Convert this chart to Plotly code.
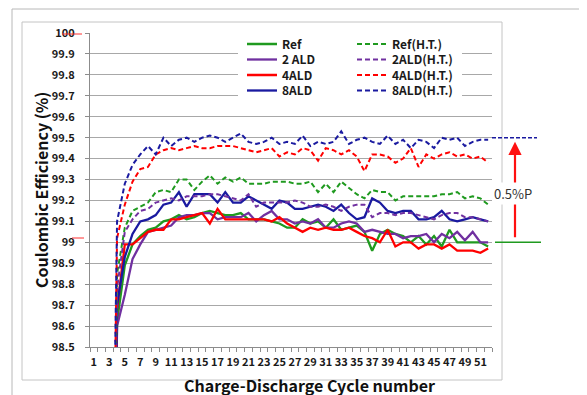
import plotly.graph_objects as go

# ---------------- data ----------------
cycles = list(range(1, 53))
x_tick_vals = list(range(1, 53, 2))
x_tick_text = [str(v) for v in x_tick_vals]
y_tick_vals = [98.5, 98.6, 98.7, 98.8, 98.9, 99.0, 99.1, 99.2, 99.3, 99.4, 99.5,
               99.6, 99.7, 99.8, 99.9, 100.0]
y_tick_text = ["98.5", "98.6", "98.7", "98.8", "98.9", "99", "99.1", "99.2", "99.3",
               "99.4", "99.5", "99.6", "99.7", "99.8", "99.9", "100"]

ref = [None, None, 96.0, 98.62, 98.89, 98.99, 99.03, 99.06, 99.07, 99.10, 99.11, 99.13,
       99.11, 99.12, 99.14, 99.15, 99.14, 99.13, 99.13, 99.14, 99.11, 99.11, 99.11, 99.10,
       99.09, 99.07, 99.07, 99.11, 99.09, 99.10, 99.07, 99.11, 99.06, 99.07, 99.08, 99.05,
       98.96, 99.04, 99.06, 99.04, 99.03, 99.00, 99.03, 98.99, 99.03, 98.98, 99.06, 99.00,
       99.00, 99.00, 99.00, 98.98]
ald2 = [None, None, 95.8, 98.60, 98.75, 98.92, 98.99, 99.05, 99.06, 99.07, 99.08, 99.12,
        99.13, 99.13, 99.14, 99.14, 99.11, 99.12, 99.12, 99.12, 99.14, 99.10, 99.13, 99.15,
        99.11, 99.11, 99.09, 99.10, 99.09, 99.11, 99.07, 99.07, 99.09, 99.10, 99.09, 99.05,
        99.06, 99.05, 99.04, 99.04, 99.02, 99.03, 99.03, 99.04, 99.00, 99.04, 99.02, 99.05,
        99.01, 99.05, 99.00, 99.00]
ald4 = [None, None, 96.0, 98.68, 98.99, 98.99, 99.02, 99.05, 99.06, 99.06, 99.11, 99.11,
        99.12, 99.13, 99.14, 99.09, 99.16, 99.11, 99.11, 99.11, 99.11, 99.11, 99.11, 99.10,
        99.12, 99.09, 99.07, 99.05, 99.07, 99.06, 99.07, 99.06, 99.06, 99.07, 99.05, 99.03,
        99.02, 99.00, 99.06, 98.98, 99.00, 99.00, 98.97, 98.99, 98.99, 98.97, 98.99, 98.96,
        98.96, 98.96, 98.95, 98.97]
ald8 = [None, None, 96.0, 98.70, 98.93, 99.04, 99.10, 99.11, 99.13, 99.18, 99.19, 99.24,
        99.17, 99.23, 99.23, 99.23, 99.19, 99.24, 99.19, 99.19, 99.22, 99.20, 99.18, 99.16,
        99.20, 99.19, 99.16, 99.16, 99.17, 99.18, 99.17, 99.15, 99.18, 99.14, 99.11, 99.12,
        99.21, 99.19, 99.15, 99.14, 99.15, 99.15, 99.11, 99.11, 99.12, 99.15, 99.11, 99.10,
        99.11, 99.12, 99.11, 99.10]
ref_ht = [None, None, 96.3, 98.85, 99.07, 99.15, 99.17, 99.19, 99.24, 99.25, 99.24, 99.30,
          99.30, 99.25, 99.29, 99.32, 99.28, 99.31, 99.29, 99.31, 99.28, 99.28, 99.28, 99.29,
          99.29, 99.29, 99.28, 99.28, 99.29, 99.24, 99.28, 99.24, 99.29, 99.26, 99.23, 99.21,
          99.25, 99.24, 99.24, 99.20, 99.22, 99.22, 99.22, 99.22, 99.22, 99.23, 99.23, 99.24,
          99.21, 99.22, 99.21, 99.18]
ald2_ht = [None, None, 96.2, 98.78, 99.05, 99.11, 99.15, 99.16, 99.19, 99.20, 99.21, 99.20,
           99.22, 99.22, 99.22, 99.23, 99.23, 99.22, 99.21, 99.20, 99.23, 99.17, 99.19, 99.19,
           99.19, 99.19, 99.20, 99.19, 99.17, 99.17, 99.18, 99.17, 99.15, 99.17, 99.18, 99.18,
           99.12, 99.14, 99.14, 99.13, 99.14, 99.14, 99.13, 99.12, 99.11, 99.13, 99.14, 99.14,
           99.12, 99.12, 99.11, 99.10]
ald4_ht = [None, None, 96.5, 99.02, 99.18, 99.29, 99.35, 99.36, 99.42, 99.44, 99.45, 99.44,
           99.45, 99.46, 99.45, 99.45, 99.46, 99.46, 99.46, 99.45, 99.44, 99.43, 99.44, 99.45,
           99.41, 99.43, 99.42, 99.45, 99.44, 99.39, 99.45, 99.44, 99.42, 99.44, 99.41, 99.34,
           99.42, 99.42, 99.41, 99.38, 99.40, 99.45, 99.36, 99.42, 99.40, 99.42, 99.43, 99.41,
           99.42, 99.40, 99.41, 99.38]
ald8_ht = [None, None, 96.6, 99.10, 99.28, 99.37, 99.42, 99.46, 99.42, 99.50, 99.46, 99.49,
           99.50, 99.48, 99.50, 99.51, 99.50, 99.48, 99.50, 99.52, 99.48, 99.47, 99.48, 99.50,
           99.47, 99.48, 99.47, 99.51, 99.46, 99.48, 99.47, 99.48, 99.53, 99.47, 99.49, 99.50,
           99.48, 99.47, 99.51, 99.47, 99.49, 99.45, 99.49, 99.48, 99.45, 99.50, 99.49, 99.50,
           99.46, 99.48, 99.49, 99.49]

names = ["Ref", "2 ALD", "4ALD", "8ALD", "Ref(H.T.)", "2ALD(H.T.)", "4ALD(H.T.)", "8ALD(H.T.)"]
series = [ref, ald2, ald4, ald8, ref_ht, ald2_ht, ald4_ht, ald8_ht]
colors = ["#1f9a1f", "#7030a0", "#ff0000", "#1a1aa0"] * 2
dashes = ["solid"] * 4 + ["5px,3px"] * 4

# ---------------- geometry (the page body adds an 8px offset) ----------------
OFF = 8
PLOT_L, PLOT_R, PLOT_T, PLOT_B = 90, 492, 33, 347      # target plot box in window pixels
W, H = 587 - OFF, 395 - OFF
L, T = PLOT_L - OFF, PLOT_T - OFF
R, B = W - (PLOT_R - OFF), H - (PLOT_B - OFF)
PW, PH = PLOT_R - PLOT_L, PLOT_B - PLOT_T


def px_x(px):
    return (px - PLOT_L) / PW


def px_y(py):
    return (PLOT_B - py) / PH


FONT = "Noto Sans CJK KR, Noto Sans, DejaVu Sans, sans-serif"

fig = go.Figure()
legend_ids = ["legend"] + [f"legend{i}" for i in range(2, 9)]
for i, (nm, ys) in enumerate(zip(names, series)):
    fig.add_trace(go.Scatter(
        x=cycles, y=ys, mode="lines", name=nm,
        line=dict(color=colors[i], width=2.3 if i < 4 else 2.0, dash=dashes[i]),
        legend=legend_ids[i], hoverinfo="x+y+name",
    ))

row_y = [44, 59.5, 75, 90.5]
legend_layout = {}
for i, lid in enumerate(legend_ids):
    col = i // 4
    row = i % 4
    legend_layout[lid] = dict(
        x=px_x(242 if col == 0 else 352), xanchor="left",
        y=px_y(row_y[row]), yanchor="middle",
        bgcolor="rgba(0,0,0,0)", borderwidth=0, itemwidth=30,
        font=dict(family=FONT, size=12, color="#1a1a1a", weight="bold"),
    )

shapes = [
    # outer chart border
    dict(type="rect", xref="paper", yref="paper", x0=px_x(12), x1=px_x(620),
         y0=px_y(420), y1=px_y(9), line=dict(color="#b8b8b8", width=1), layer="below"),
    # inner plot-area border
    dict(type="rect", xref="paper", yref="paper", x0=px_x(22), x1=px_x(502),
         y0=px_y(380), y1=px_y(22), line=dict(color="#c4c4c4", width=1), layer="below"),
    # white legend box
    dict(type="rect", xref="paper", yref="paper", x0=px_x(238), x1=px_x(462),
         y0=px_y(106), y1=px_y(34), fillcolor="white", line=dict(width=0), layer="above"),
    # reference level lines on the right
    dict(type="line", xref="paper", yref="y", x0=px_x(492), x1=px_x(537), y0=99.5, y1=99.5,
         line=dict(color="#1a1aa0", width=1.5, dash="4px,2px")),
    dict(type="line", xref="paper", yref="y", x0=px_x(495), x1=px_x(541), y0=99.0, y1=99.0,
         line=dict(color="#1f9a1f", width=1.5)),
    # red spell-check squiggles under tick labels
    dict(type="line", xref="paper", yref="paper", x0=px_x(62), x1=px_x(82),
         y0=px_y(34), y1=px_y(34), line=dict(color="#ff3030", width=1)),
    dict(type="line", xref="paper", yref="paper", x0=px_x(72), x1=px_x(84),
         y0=px_y(238), y1=px_y(238), line=dict(color="#ff3030", width=1)),
]

annotations = [
    dict(text="Coulombic Efficiency (%)", xref="paper", yref="paper", x=px_x(41), y=0.5,
         textangle=-90, showarrow=False, xanchor="center", yanchor="middle",
         font=dict(family=FONT, size=16, color="#111111", weight="bold")),
    dict(text="Charge-Discharge Cycle number", xref="paper", yref="paper",
         x=px_x(309), y=px_y(385), showarrow=False, xanchor="center", yanchor="middle",
         font=dict(family=FONT, size=16, color="#111111", weight="bold")),
    # red arrow
    dict(text="", xref="paper", yref="y", x=px_x(515), y=99.48, ax=0, ay=97,
         showarrow=True, arrowhead=2, arrowsize=1.2, arrowwidth=2.2, arrowcolor="#ff1010"),
    dict(text="0.5%P", xref="paper", yref="y", x=px_x(513), y=99.235, showarrow=False,
         xanchor="center", yanchor="middle", bgcolor="white",
         font=dict(family=FONT, size=13, color="#333333")),
]

fig.update_layout(
    width=W, height=H,
    margin=dict(l=L, r=R, t=T, b=B, autoexpand=False),
    paper_bgcolor="white", plot_bgcolor="white",
    showlegend=True,
    shapes=shapes, annotations=annotations,
    **legend_layout,
)

fig.update_xaxes(
    range=[0.5, 52.5], tickmode="array", tickvals=x_tick_vals, ticktext=x_tick_text,
    ticks="", showgrid=False, zeroline=False, showline=True, linecolor="#8c8c8c", linewidth=1,
    tickfont=dict(family=FONT, size=11, color="#1a1a1a", weight="bold"),
    ticklabelstandoff=5, automargin=False,
    minor=dict(ticks="outside", ticklen=4, tickcolor="#8c8c8c", tickmode="linear",
               tick0=0.5, dtick=1, showgrid=False),
)
fig.update_yaxes(
    range=[98.5, 100], tickmode="array", tickvals=y_tick_vals, ticktext=y_tick_text,
    ticks="outside", ticklen=4, tickcolor="#8c8c8c",
    showgrid=True, gridcolor="#a8a8a8", gridwidth=1, zeroline=False,
    showline=True, linecolor="#8c8c8c", linewidth=1,
    tickfont=dict(family=FONT, size=11, color="#1a1a1a", weight="bold"),
    ticklabelstandoff=8, automargin=False,
)

fig.write_html("out.html")
